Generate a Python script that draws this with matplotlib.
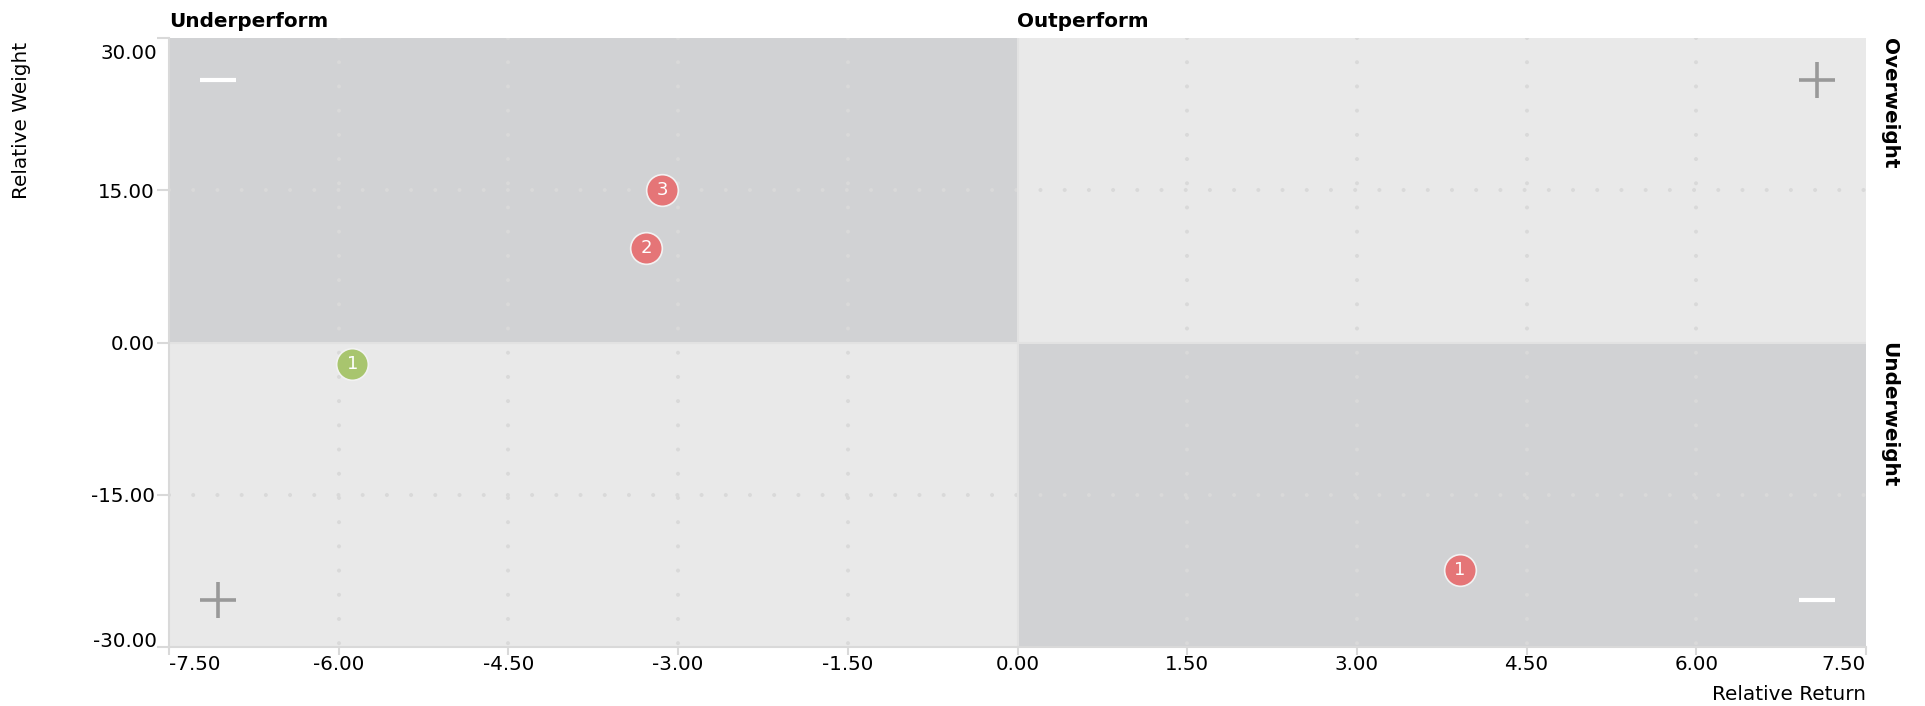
import matplotlib
matplotlib.use("Agg")
import matplotlib.pyplot as plt
import matplotlib.transforms as mtransforms
from matplotlib.patches import Rectangle
import numpy as np

# Data
red_x = [-3.14, -3.28, 3.91]
red_y = [15.0, 9.3, -22.4]
red_labels = ["3", "2", "1"]
green_x = [-5.88]
green_y = [-2.1]
green_labels = ["1"]
x_ticks = [-7.5, -6.0, -4.5, -3.0, -1.5, 0.0, 1.5, 3.0, 4.5, 6.0, 7.5]
y_ticks = [-30.0, -15.0, 0.0, 15.0, 30.0]

plt.rcParams['font.family'] = ['DejaVu Sans']

fig = plt.figure(figsize=(19.25, 7.06), dpi=100)
ax = fig.add_axes([169/1925, 1 - 647/706, (1866-169)/1925, (647-38)/706])
ax.set_xlim(-7.5, 7.5)
ax.set_ylim(-30, 30)

dark = '#d1d2d4'
light = '#e9e9e9'
ax.add_patch(Rectangle((-7.5, 0), 7.5, 30, facecolor=dark, edgecolor='none', zorder=0))
ax.add_patch(Rectangle((0, 0), 7.5, 30, facecolor=light, edgecolor='none', zorder=0))
ax.add_patch(Rectangle((-7.5, -30), 7.5, 30, facecolor=light, edgecolor='none', zorder=0))
ax.add_patch(Rectangle((0, -30), 7.5, 30, facecolor=dark, edgecolor='none', zorder=0))

# dotted grid
dot_kw = dict(color='#d9d9d9', lw=2.9, dashes=(0.01, 6.0), dash_capstyle='round', zorder=1)
for xv in x_ticks:
    if abs(xv) in (0.0, 7.5):
        continue
    ax.plot([xv, xv], [30, -30], **dot_kw)
for yv in [-15.0, 15.0]:
    ax.plot([-7.5, 7.5], [yv, yv], **dot_kw)
ax.axvline(0, color='#e2e2e2', lw=1.5, zorder=1)
ax.axhline(0, color='#e2e2e2', lw=1.5, zorder=1)

# points
ax.scatter(red_x, red_y, s=520, color='#e57577', edgecolors='#f2f2f2', linewidths=1.2, zorder=5)
ax.scatter(green_x, green_y, s=520, color='#a8c56e', edgecolors='#f2f2f2', linewidths=1.2, zorder=5)
numfont = ['Liberation Sans Narrow', 'DejaVu Sans']
for x, y, t in zip(red_x, red_y, red_labels):
    ax.text(x, y, t, color='white', fontsize=13, ha='center', va='center', family=numfont, zorder=6)
for x, y, t in zip(green_x, green_y, green_labels):
    ax.text(x, y, t, color='white', fontsize=13, ha='center', va='center', family=numfont, zorder=6)

# plus / minus symbols
hw = 18 / 1697
hh = 18 / 609
def plus(xf, yf, color):
    ax.plot([xf - hw, xf + hw], [yf, yf], transform=ax.transAxes, color=color, lw=2.6, solid_capstyle='butt', zorder=4)
    ax.plot([xf, xf], [yf - hh, yf + hh], transform=ax.transAxes, color=color, lw=2.6, solid_capstyle='butt', zorder=4)
def minus(xf, yf, color):
    ax.plot([xf - hw, xf + hw], [yf, yf], transform=ax.transAxes, color=color, lw=3, solid_capstyle='butt', zorder=4)

plus(0.9712, 0.9318, '#999999')
plus(0.0290, 0.0770, '#999999')
minus(0.0290, 0.9318, 'white')
minus(0.9712, 0.0770, 'white')

# axes styling
for s in ['top', 'right']:
    ax.spines[s].set_visible(False)
for s in ['left', 'bottom']:
    ax.spines[s].set_color('#d9d9d9')
    ax.spines[s].set_linewidth(1.5)
ax.set_xticks(x_ticks)
ax.set_yticks(y_ticks)
ax.set_xticklabels([f"{v:.2f}" for v in x_ticks])
ylabels = [f"{v:.2f}" for v in y_ticks]
ax.set_yticklabels(["" if i in (0, len(y_ticks) - 1) else s for i, s in enumerate(ylabels)])
ax.tick_params(axis='both', colors='#d9d9d9', labelcolor='black', labelsize=14.3, width=1.5)
ax.tick_params(axis='x', length=6, pad=0)
ax.tick_params(axis='y', length=9, pad=1)
xl = ax.get_xticklabels()
xl[0].set_horizontalalignment('left')
xl[-1].set_horizontalalignment('right')

# end y tick labels drawn justified inside the plot height
ytr = mtransforms.blended_transform_factory(ax.transAxes, ax.transData)
top_tr = mtransforms.offset_copy(ytr, fig=fig, x=-12, y=-6, units='dots')
bot_tr = mtransforms.offset_copy(ytr, fig=fig, x=-12, y=0, units='dots')
ax.text(0, y_ticks[-1], ylabels[-1], transform=top_tr, fontsize=14.3, ha='right', va='top')
ax.text(0, y_ticks[0], ylabels[0], transform=bot_tr, fontsize=14.3, ha='right', va='baseline')

# labels
bf = 14.4
ax.text(0.0, 1.012, "Underperform", transform=ax.transAxes, fontsize=bf, fontweight='bold', ha='left', va='bottom')
ax.text(0.5, 1.012, "Outperform", transform=ax.transAxes, fontsize=bf, fontweight='bold', ha='left', va='bottom')
ax.text(1.008, 1.0, "Overweight", transform=ax.transAxes, fontsize=bf, fontweight='bold', ha='left', va='top', rotation=-90)
ax.text(1.008, 0.5, "Underweight", transform=ax.transAxes, fontsize=bf, fontweight='bold', ha='left', va='top', rotation=-90)
fig.text(12/1925, 1 - 42/706, "Relative Weight", fontsize=bf, rotation=90, ha='left', va='top')
fig.text(1866/1925, 1 - 704/706, "Relative Return", fontsize=bf, ha='right', va='bottom')

fig.savefig("out.png", dpi=100)
